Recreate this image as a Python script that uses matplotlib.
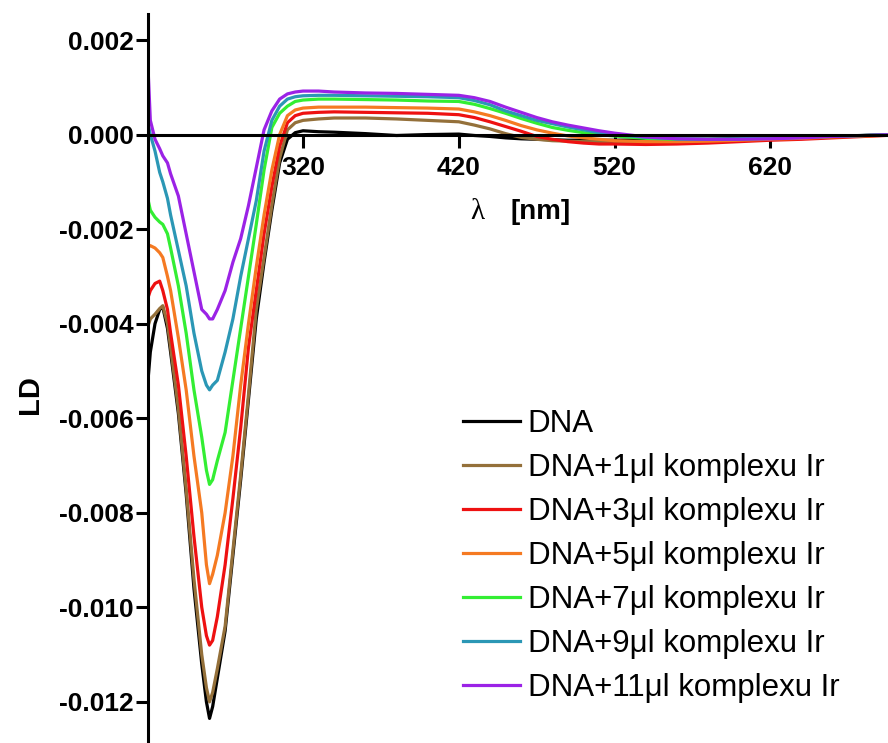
import matplotlib
matplotlib.use('Agg')
import matplotlib.pyplot as plt

plt.rcParams['font.family'] = ['Liberation Sans', 'DejaVu Sans']
plt.rcParams['axes.unicode_minus'] = False

wavelength = [220, 222, 225, 228, 230, 233, 235, 240, 245, 250, 255, 258, 260, 262, 265,
              270, 275, 280, 285, 290, 295, 300, 305, 310, 315, 320, 330, 340, 360, 380,
              400, 420, 430, 440, 450, 460, 470, 480, 490, 500, 510, 520, 540, 560, 580,
              600, 620, 640, 660, 680, 700]

ld_dna = [-0.0054, -0.0046, -0.0040, -0.0037, -0.00365, -0.0041, -0.0046, -0.0059, -0.0076,
          -0.0096, -0.0112, -0.0120, -0.01235, -0.0121, -0.0115, -0.0105, -0.0089, -0.0073,
          -0.0056, -0.0039, -0.0027, -0.0016, -0.0006, -0.0001, 0.00004, 0.00008, 0.00006,
          0.00005, 0.00002, -0.00002, 0.0, 0.00001, -0.00002, -0.00004, -0.00007, -0.00009,
          -0.0001, -0.00011, -0.00012, -0.00012, -0.00012, -0.00012, -0.00011, -0.0001,
          -0.0001, -0.00008, -0.00006, -0.00005, -0.00003, -0.00002, 0.0]

ld_1ul = [-0.0041, -0.0039, -0.0038, -0.00368, -0.00362, -0.0040, -0.0045, -0.0058, -0.0075,
          -0.0094, -0.0110, -0.0117, -0.0120, -0.0118, -0.0113, -0.0104, -0.0088, -0.0072,
          -0.0055, -0.0037, -0.0026, -0.0015, -0.0005, 0.0001, 0.00025, 0.0003, 0.00033,
          0.00035, 0.00035, 0.00033, 0.0003, 0.00027, 0.0002, 0.00012, 0.00002, -0.00006,
          -0.0001, -0.00013, -0.00014, -0.00015, -0.00015, -0.00015, -0.00015, -0.00014,
          -0.00012, -0.0001, -0.00008, -0.00006, -0.00004, -0.00002, 0.0]

ld_3ul = [-0.0035, -0.0033, -0.00315, -0.0031, -0.0033, -0.0037, -0.0042, -0.0053, -0.0068,
          -0.0085, -0.0100, -0.0106, -0.0108, -0.0107, -0.0102, -0.0091, -0.0077, -0.0062,
          -0.0045, -0.0033, -0.0021, -0.0011, -0.00025, 0.00025, 0.0004, 0.00045, 0.00047,
          0.00048, 0.00047, 0.00046, 0.00045, 0.00042, 0.00036, 0.00027, 0.00017, 0.00007,
          -0.00004, -0.0001, -0.00015, -0.00018, -0.0002, -0.0002, -0.00021, -0.0002,
          -0.00018, -0.00015, -0.00012, -0.0001, -0.00007, -0.00004, -0.00001]

ld_5ul = [-0.0024, -0.00235, -0.0024, -0.0025, -0.0026, -0.0030, -0.0033, -0.0043, -0.0054,
          -0.0068, -0.0080, -0.0091, -0.0095, -0.0093, -0.0089, -0.0080, -0.0068, -0.0053,
          -0.0040, -0.0028, -0.0017, -0.00075, 0.0, 0.0004, 0.00052, 0.00056, 0.00058,
          0.00058, 0.00058, 0.00057, 0.00056, 0.00054, 0.00048, 0.0004, 0.0003, 0.00019,
          0.0001, 0.00003, -0.00003, -0.00007, -0.0001, -0.00013, -0.00015, -0.00015,
          -0.00014, -0.00012, -0.0001, -0.00008, -0.00005, -0.00003, -0.00001]

ld_7ul = [-0.0013, -0.0016, -0.00175, -0.00185, -0.0019, -0.0021, -0.0024, -0.0032, -0.0042,
          -0.0054, -0.0064, -0.0071, -0.0074, -0.0073, -0.0069, -0.0063, -0.0052, -0.0041,
          -0.0030, -0.0019, -0.00075, 0.00015, 0.00045, 0.0006, 0.0007, 0.00073, 0.00075,
          0.00075, 0.00074, 0.00073, 0.00071, 0.0007, 0.00064, 0.00055, 0.00045, 0.00034,
          0.00024, 0.00015, 0.00009, 0.00004, 0.0, -0.00003, -0.00008, -0.0001, -0.0001,
          -0.0001, -0.00008, -0.00006, -0.00004, -0.00002, 0.0]

ld_9ul = [0.0003, 0.0, -0.00035, -0.0008, -0.001, -0.00135, -0.0017, -0.00245, -0.0032,
          -0.0042, -0.0050, -0.0053, -0.0054, -0.0053, -0.0052, -0.0046, -0.0039, -0.0030,
          -0.0022, -0.0014, -0.00035, 0.0003, 0.0006, 0.00075, 0.0008, 0.00082, 0.00083,
          0.00083, 0.00082, 0.00081, 0.0008, 0.00078, 0.00072, 0.00063, 0.0005, 0.0004,
          0.0003, 0.00023, 0.00016, 0.0001, 0.00004, 0.0, -0.00006, -0.00009, -0.0001,
          -0.00009, -0.00007, -0.00005, -0.00003, -0.00002, 0.0]

ld_11ul = [0.0018, 0.0003, -0.0001, -0.0003, -0.00045, -0.0006, -0.00083, -0.0013, -0.0021,
           -0.0029, -0.0037, -0.0038, -0.0039, -0.0039, -0.0037, -0.0033, -0.0027, -0.0022,
           -0.0015, -0.0007, 0.0001, 0.0005, 0.00075, 0.00086, 0.0009, 0.00092, 0.00092,
           0.0009, 0.00088, 0.00087, 0.00085, 0.00083, 0.00078, 0.0007, 0.00058, 0.00047,
           0.00036, 0.00027, 0.0002, 0.00014, 0.00008, 0.00003, -0.00005, -0.00009, -0.0001,
           -0.0001, -0.00009, -0.00007, -0.00004, -0.00002, 0.0]

series_labels = ['DNA', 'DNA+1μl komplexu Ir', 'DNA+3μl komplexu Ir', 'DNA+5μl komplexu Ir',
                 'DNA+7μl komplexu Ir', 'DNA+9μl komplexu Ir', 'DNA+11μl komplexu Ir']
series_colors = ['#000000', '#94703a', '#ee1111', '#f57a22', '#33ee33', '#2b97b5', '#9b22e6']

x_ticks = [320, 420, 520, 620]
y_ticks = [0.002, 0.000, -0.002, -0.004, -0.006, -0.008, -0.010, -0.012]
y_tick_labels = ['0.002', '0.000', '-0.002', '-0.004', '-0.006', '-0.008', '-0.010', '-0.012']

series = [ld_dna, ld_1ul, ld_3ul, ld_5ul, ld_7ul, ld_9ul, ld_11ul]

W, H = 888, 743
fig = plt.figure(figsize=(W / 100, H / 100), dpi=100)
ax = fig.add_axes([148 / W, 0, 740 / W, 729 / H])

for vals, lab, col in zip(series, series_labels, series_colors):
    ax.plot(wavelength, vals, color=col, lw=2.3, label=lab, solid_joinstyle='round')

ax.set_xlim(220.5, 695.5)
ax.set_ylim(-0.01287, 0.00255)
ax.spines['right'].set_visible(False)
ax.spines['top'].set_visible(False)
ax.spines['bottom'].set_position(('data', 0))
for s in ('left', 'bottom'):
    ax.spines[s].set_linewidth(2.2)

ax.set_xticks(x_ticks)
ax.set_xticklabels([str(t) for t in x_ticks])
ax.set_yticks(y_ticks)
ax.set_yticklabels(y_tick_labels)
ax.tick_params(axis='both', width=2.2, length=9, labelsize=19)
ax.tick_params(axis='x', pad=6.5)
ax.tick_params(axis='y', pad=1.5)
for lbl in ax.get_xticklabels() + ax.get_yticklabels():
    lbl.set_fontweight('bold')

fig.text(477 / W, 1 - 212 / H, 'λ', ha='center', va='center', fontsize=21,
         family=['Liberation Serif', 'DejaVu Serif'])
fig.text(541 / W, 1 - 212 / H, '[nm]', ha='center', va='center', fontsize=20,
         fontweight='bold')
fig.text(30 / W, 1 - 395 / H, 'LD', ha='center', va='center', rotation=90,
         fontsize=21, fontweight='bold')

ax.legend(loc='upper left', bbox_to_anchor=(463 / W, 1 - 409 / H),
          bbox_transform=fig.transFigure, frameon=False, fontsize=22.5,
          handlelength=1.82, handletextpad=0.25, labelspacing=0.45,
          borderaxespad=0, borderpad=0)

fig.savefig('out.png', dpi=100)
